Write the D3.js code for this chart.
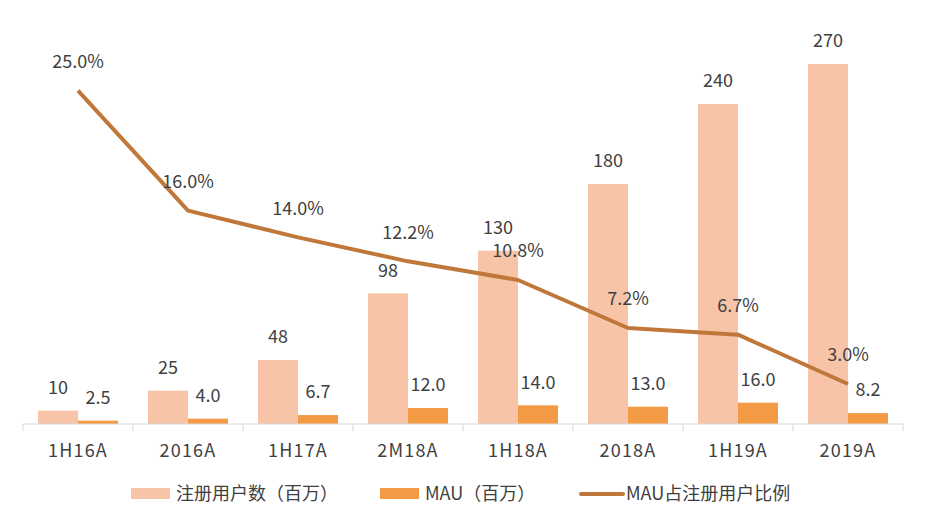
<!DOCTYPE html>
<html><head><meta charset="utf-8">
<script src="https://cdn.jsdelivr.net/npm/d3@7"></script>
<style>body{margin:0;background:#fff;}svg{display:block;font-family:"Noto Sans CJK SC","Noto Sans",sans-serif;}</style>
</head><body><svg id="c" width="926" height="526"></svg>
<script>
const categories = ["1H16A","2016A","1H17A","2M18A","1H18A","2018A","1H19A","2019A"];
const registered = [10,25,48,98,130,180,240,270];
const mau = [2.5,4.0,6.7,12.0,14.0,13.0,16.0,8.2];
const ratio = [25.0,16.0,14.0,12.2,10.8,7.2,6.7,3.0];
const seriesNames = ["注册用户数（百万）","MAU（百万）","MAU占注册用户比例"];
const colors = ["#F8C4A8","#F39A45","#C0783A"];

const svg = d3.select("#c");
const x = d3.scaleBand().domain(categories).range([23,903]).paddingInner(0).paddingOuter(0);
const xs = d3.scaleBand().domain([0,1]).range([15,95]);
const y = d3.scaleLinear().domain([0,300]).range([424,24]);
const y2 = d3.scaleLinear().domain([0,30]).range([424,24]);
const txt = "#404040";
const fs = 18;

// bars
const g = svg.append("g");
[registered, mau].forEach((arr,si)=>{
  g.selectAll(null).data(arr).enter().append("rect")
    .attr("x",(d,i)=>x(categories[i])+xs(si))
    .attr("width",xs.bandwidth())
    .attr("y",d=>y(d))
    .attr("height",d=>y(0)-y(d))
    .attr("fill",colors[si]);
});

// axis
const ax = svg.append("g").attr("transform","translate(0,424)");
ax.append("line").attr("x1",23).attr("x2",903).attr("stroke","#d9d9d9").attr("stroke-width",1);
const ticks = categories.map(c=>x(c)).concat([903]);
ax.selectAll(null).data(ticks).enter().append("line")
  .attr("x1",d=>d).attr("x2",d=>d).attr("y1",0).attr("y2",7).attr("stroke","#d9d9d9");
ax.selectAll(null).data(categories).enter().append("text")
  .attr("x",d=>x(d)+x.bandwidth()/2).attr("y",27).attr("dy","0.35em")
  .attr("text-anchor","middle").attr("font-size",fs).attr("letter-spacing",1.2).attr("fill",txt).text(d=>d);

// bar labels
[registered, mau].forEach((arr,si)=>{
  svg.selectAll(null).data(arr).enter().append("text")
    .attr("x",(d,i)=>x(categories[i])+xs(si)+xs.bandwidth()/2)
    .attr("y",d=>y(d)-23).attr("dy","0.35em")
    .attr("text-anchor","middle").attr("font-size",fs).attr("fill",txt)
    .text(d=>si===0?d3.format("d")(d):d3.format(".1f")(d));
});

// line
const line = d3.line().x((d,i)=>x(categories[i])+x.bandwidth()/2).y(d=>y2(d));
svg.append("path").datum(ratio).attr("d",line).attr("fill","none")
  .attr("stroke",colors[2]).attr("stroke-width",4).attr("stroke-linejoin","round");
svg.selectAll(null).data(ratio).enter().append("text")
  .attr("x",(d,i)=>x(categories[i])+x.bandwidth()/2)
  .attr("y",d=>y2(d)-29).attr("dy","0.35em")
  .attr("text-anchor","middle").attr("font-size",fs).attr("fill",txt)
  .text(d=>d3.format(".1f")(d)+"%");

// legend
const lg = svg.append("g").attr("transform","translate(0,494)");
const items = [{x:131,type:"rect"},{x:380,type:"rect"},{x:581,type:"line"}];
items.forEach((it,i)=>{
  if(it.type==="rect"){
    lg.append("rect").attr("x",it.x).attr("y",-6).attr("width",39).attr("height",11).attr("fill",colors[i]);
  } else {
    lg.append("line").attr("x1",it.x).attr("x2",it.x+42).attr("y1",0).attr("y2",0)
      .attr("stroke",colors[i]).attr("stroke-width",4).attr("stroke-linecap","round");
  }
  lg.append("text").attr("x",it.x+45).attr("y",0).attr("dy","0.35em")
    .attr("font-size",fs).attr("fill",txt).text(seriesNames[i]);
});
</script></body></html>
